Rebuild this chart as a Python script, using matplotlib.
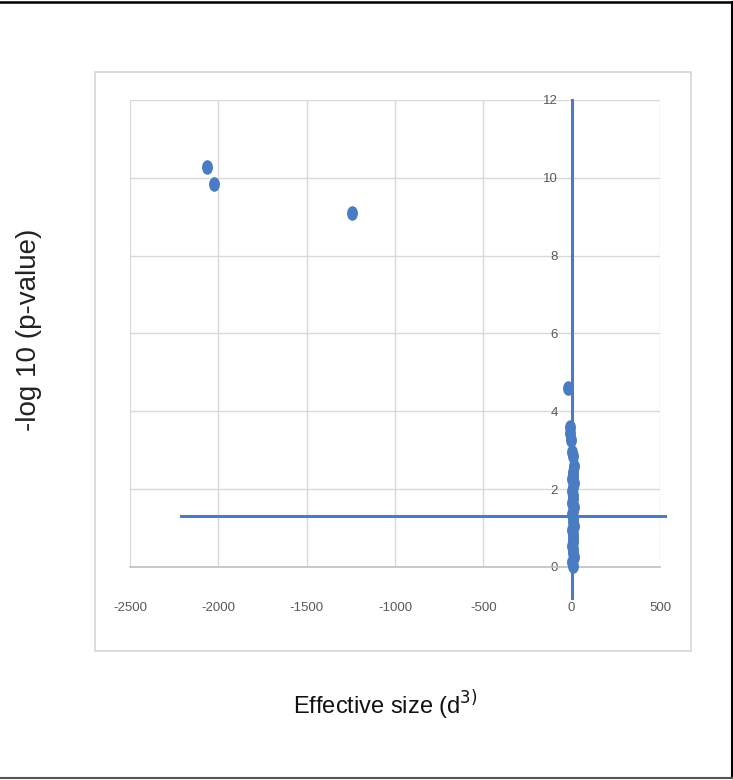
import matplotlib.pyplot as plt
from matplotlib.lines import Line2D
from matplotlib.patches import Rectangle
from matplotlib.path import Path
from matplotlib.transforms import Affine2D

# data
effect_size = [-2062, -2024, -1242, -22, -12, -8, -3, 1, 10, 14,
               5, 9, 4, 12, 7, 3, 10, 6, 2, 11, 8, 4, 9, 5, 13,
               3, 7, 10, 6, 2, 8, 5, 11, 4, 7]
neg_log_p = [10.27, 9.84, 9.09, 4.6, 3.6, 3.45, 3.26, 2.96, 2.84, 2.6,
             2.45, 2.35, 2.25, 2.15, 2.05, 1.95, 1.85, 1.75, 1.65, 1.55,
             1.45, 1.35, 1.25, 1.15, 1.05, 0.95, 0.85, 0.75, 0.65, 0.55,
             0.45, 0.35, 0.25, 0.12, 0.02]
x_ticks = [-2500, -2000, -1500, -1000, -500, 0, 500]
y_ticks = [0, 2, 4, 6, 8, 10, 12]
p_cut = 1.301      # -log10(0.05)
d_cut = 0

blue = '#4a7cc4'
grid_col = '#d9d9d9'
tick_col = '#595959'

plt.rcParams['font.family'] = ['Liberation Sans', 'DejaVu Sans']
plt.rcParams['axes.unicode_minus'] = False

fig = plt.figure(figsize=(7.33, 7.8), dpi=100)

# chart area frame
fig.patches.append(Rectangle((0.1296, 0.1654), 0.8131, 0.7423, transform=fig.transFigure,
                             fill=False, edgecolor=grid_col, linewidth=1.3))
# outer picture frame (top, right, bottom)
fig.lines.append(Line2D([0, 0.998], [0.998, 0.998], transform=fig.transFigure, color='black', lw=1.8))
fig.lines.append(Line2D([0.998, 0.998], [0.998, 0.002], transform=fig.transFigure, color='black', lw=1.5))
fig.lines.append(Line2D([0, 0.998], [0.002, 0.002], transform=fig.transFigure, color='#555555', lw=1.5))

ax = fig.add_axes([0.1774, 0.2731, 0.7230, 0.5987])
ax.set_xlim(-2500, 500)
ax.set_ylim(0, 12)
ax.set_xticks(x_ticks)
ax.set_yticks(y_ticks)
ax.grid(True, color=grid_col, linewidth=1.0)
ax.set_axisbelow(True)

for s in ['top', 'right']:
    ax.spines[s].set_visible(False)
ax.spines['left'].set_position(('data', 0))
ax.spines['left'].set_visible(False)
ax.spines['bottom'].set_color('#bfbfbf')
ax.spines['bottom'].set_linewidth(1.2)

ax.tick_params(axis='x', length=0, pad=25, labelsize=9.5, labelcolor=tick_col)
ax.tick_params(axis='y', length=0, pad=10, labelsize=9.5, labelcolor=tick_col)

# threshold lines, drawn past the plot area like in the original
ax.plot([d_cut, d_cut], [-0.8, 12], color=blue, lw=2.2, clip_on=False, zorder=3)
ax.plot([-2214, 530], [p_cut, p_cut], color=blue, lw=2.2, clip_on=False, zorder=3)

# slightly tall oval markers
oval = Path.unit_circle().transformed(Affine2D().scale(0.72, 1.0))
ax.scatter(effect_size, neg_log_p, s=90, marker=oval, color=blue, zorder=4, clip_on=False)

fig.text(0.040, 0.577, '-log 10 (p-value)', rotation=90, ha='center', va='center',
         fontsize=20, color='#222222')
fig.text(0.525, 0.096, 'Effective size (d$^{3)}$', ha='center', va='center',
         fontsize=17, color='#111111')

fig.savefig('out.png', dpi=100)
